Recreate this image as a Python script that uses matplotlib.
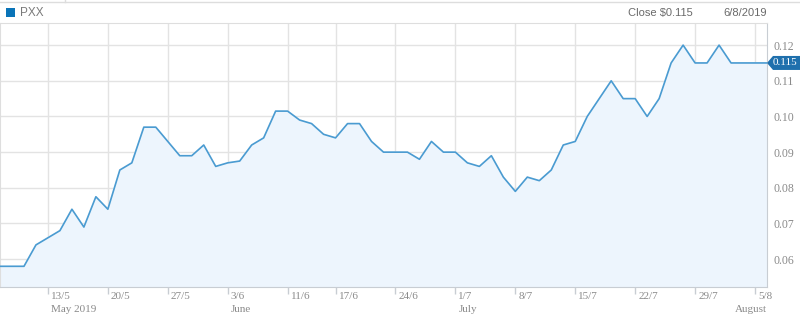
import matplotlib
matplotlib.use("Agg")
import matplotlib.pyplot as plt
import matplotlib.transforms as mtransforms
from matplotlib.patches import Polygon, Rectangle
from matplotlib.lines import Line2D

# trading days (ASX, 10/6 holiday) and closing prices
dates = ["7/5", "8/5", "9/5", "10/5",
         "13/5", "14/5", "15/5", "16/5", "17/5",
         "20/5", "21/5", "22/5", "23/5", "24/5",
         "27/5", "28/5", "29/5", "30/5", "31/5",
         "3/6", "4/6", "5/6", "6/6", "7/6",
         "11/6", "12/6", "13/6", "14/6",
         "17/6", "18/6", "19/6", "20/6", "21/6",
         "24/6", "25/6", "26/6", "27/6", "28/6",
         "1/7", "2/7", "3/7", "4/7", "5/7",
         "8/7", "9/7", "10/7", "11/7", "12/7",
         "15/7", "16/7", "17/7", "18/7", "19/7",
         "22/7", "23/7", "24/7", "25/7", "26/7",
         "29/7", "30/7", "31/7", "1/8", "2/8",
         "5/8", "6/8"]
close = [0.058, 0.058, 0.058, 0.064,
         0.066, 0.068, 0.074, 0.069, 0.0775,
         0.074, 0.085, 0.087, 0.097, 0.097,
         0.093, 0.089, 0.089, 0.092, 0.086,
         0.087, 0.0875, 0.092, 0.094, 0.1015,
         0.1015, 0.099, 0.098, 0.095,
         0.094, 0.098, 0.098, 0.093, 0.090,
         0.090, 0.090, 0.088, 0.093, 0.090,
         0.090, 0.087, 0.086, 0.089, 0.083,
         0.079, 0.083, 0.082, 0.085, 0.092,
         0.093, 0.100, 0.105, 0.110, 0.105,
         0.105, 0.100, 0.105, 0.115, 0.120,
         0.115, 0.115, 0.120, 0.115, 0.115,
         0.115, 0.115]

week_ticks = ["13/5", "20/5", "27/5", "3/6", "11/6", "17/6", "24/6",
              "1/7", "8/7", "15/7", "22/7", "29/7", "5/8"]
month_labels = {"13/5": "May 2019", "3/6": "June", "1/7": "July", "5/8": "August"}
y_ticks = [0.06, 0.07, 0.08, 0.09, 0.10, 0.11, 0.12]

ticker = "PXX"
last_close = close[-1]
last_date = "6/8/2019"

W, H = 800, 319
fig = plt.figure(figsize=(W / 100, H / 100), dpi=100)
fig.patch.set_facecolor("white")

def fx(px):
    return px / W

def fy(py):
    return 1 - py / H

ax = fig.add_axes([0, fy(287), fx(767), (287 - 23) / H])
x = list(range(len(dates)))

line_col = "#4a9bd1"
ax.fill_between(x, close, 0, color="#edf5fd", zorder=1)
ax.plot(x, close, color=line_col, lw=1.2, zorder=3)

ax.set_xlim(0, len(dates) - 1)
ax.set_ylim(0.0522, 0.1262)

tick_pos = [dates.index(d) for d in week_ticks]
ax.set_xticks(tick_pos)
ax.set_xticklabels(week_ticks)
ax.set_yticks(y_ticks)
ax.set_yticklabels([f"{v:.2f}" for v in y_ticks])
ax.yaxis.tick_right()

serif = "Liberation Serif"
ax.tick_params(axis="x", length=5, width=1, color="#c8cdd3", pad=0,
               labelsize=8, labelcolor="#8a8a8a", direction="out")
ax.tick_params(axis="y", length=0, pad=5, labelsize=8.5, labelcolor="#8a8a8a")
shift = mtransforms.ScaledTranslation(3 / 100, 1.5 / 100, fig.dpi_scale_trans)
for lab in ax.get_xticklabels() + ax.get_yticklabels():
    lab.set_fontfamily(serif)
for lab in ax.get_xticklabels():
    lab.set_horizontalalignment("left")
    lab.set_transform(lab.get_transform() + shift)

ax.grid(True, color="#e3e3e3", lw=1, zorder=0)
ax.set_axisbelow(True)
for side in ["left", "top"]:
    ax.spines[side].set_color("#dedede")
for side in ["right", "bottom"]:
    ax.spines[side].set_color("#c8cdd3")

# month names under the day labels
trans = mtransforms.blended_transform_factory(ax.transData, fig.transFigure)
for d, name in month_labels.items():
    xi = dates.index(d)
    if name == "August":
        ax.text(len(dates) - 1, fy(310), name, transform=trans, ha="right", va="center",
                fontsize=8, color="#8a8a8a", family=serif)
    else:
        t = ax.text(xi, fy(310), name, ha="left", va="center",
                    fontsize=8, color="#8a8a8a", family=serif)
        t.set_transform(trans + mtransforms.ScaledTranslation(3 / 100, 0, fig.dpi_scale_trans))

# last price badge
fig.canvas.draw()
_, yb = ax.transData.transform((0, last_close))
yb = H - yb
badge = Polygon([(767, yb), (773, yb - 7), (W, yb - 7), (W, yb + 7), (773, yb + 7)],
                closed=True, facecolor="#1f70ad", edgecolor="none")
badge.set_transform(mtransforms.Affine2D().scale(1, -1).translate(0, H))
fig.patches.append(badge)
fig.text(fx(773), fy(yb), f"{last_close:.3f}", color="white", fontsize=8,
         family=serif, va="center", ha="left")

# header
fig.add_artist(Line2D([0, 1], [fy(2), fy(2)], transform=fig.transFigure, color="#dddddd", lw=1))
fig.add_artist(Line2D([fx(65), fx(65)], [fy(0), fy(2)], transform=fig.transFigure, color="#dddddd", lw=1))
fig.add_artist(Rectangle((fx(6), fy(17)), fx(9), 9 / H, transform=fig.transFigure,
                         facecolor="#0a74b8", edgecolor="none"))
sans = "Liberation Sans"
fig.text(fx(20), fy(13), ticker, fontsize=8.5, color="#7a7a7a", family=sans, va="center")
fig.text(fx(628), fy(13), f"Close ${last_close:.3f}", fontsize=8, color="#6a6a6a", family=sans, va="center")
fig.text(fx(723), fy(13), last_date, fontsize=8, color="#6a6a6a", family=sans, va="center")

fig.savefig("out.png", dpi=100)
